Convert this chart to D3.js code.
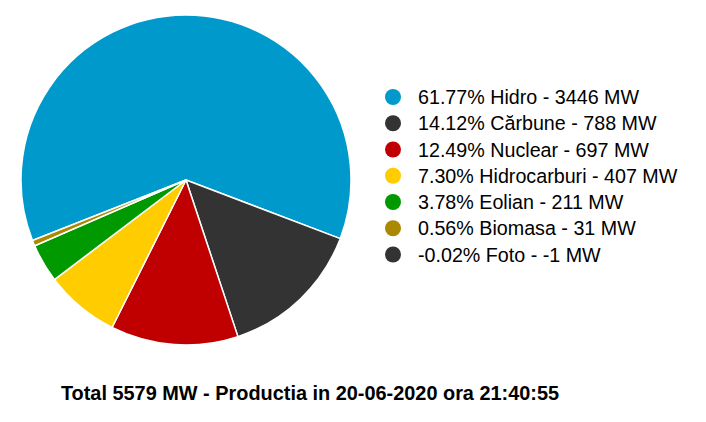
<!DOCTYPE html>
<html lang="ro">
<head>
<meta charset="UTF-8">
<title>Productia de energie</title>
<script src="https://d3js.org/d3.v7.min.js"></script>
<style>
  body { margin: 0; background: #fff; }
  svg text { font-family: Arial, "Liberation Sans", sans-serif; fill: #000; }
</style>
</head>
<body>
<svg width="706" height="422"></svg>
<script>
const sources = ["Hidro", "Cărbune", "Nuclear", "Hidrocarburi", "Eolian", "Biomasa", "Foto"];
const megawatts = [3446, 788, 697, 407, 211, 31, -1];
const colors = ["#0099cc", "#333333", "#c00000", "#ffcc00", "#009900", "#aa8800", "#333333"];
const stamp = "20-06-2020 ora 21:40:55";

const total = d3.sum(megawatts);
const rows = sources.map((s, i) => ({ name: s, mw: megawatts[i], color: colors[i] }));

const svg = d3.select("svg");
const cx = 186, cy = 180, radius = 165;

// pie starts where Biomasa ends (~248 deg clockwise from top)
const start = 248.5 * Math.PI / 180;
const pie = d3.pie()
    .sort(null)
    .value(d => Math.max(0, d.mw))
    .startAngle(start)
    .endAngle(start + 2 * Math.PI);
const arc = d3.arc().innerRadius(0).outerRadius(radius);

svg.append("g")
    .attr("transform", "translate(" + cx + "," + cy + ")")
    .selectAll("path")
    .data(pie(rows).filter(d => d.value > 0))
    .enter()
    .append("path")
    .attr("d", arc)
    .attr("fill", d => d.data.color)
    .attr("stroke", "#fff")
    .attr("stroke-width", 1.5)
    .attr("stroke-linejoin", "round");

// legend
const ly = d3.scalePoint().domain(sources).range([97, 254.5]);
const legend = svg.append("g")
    .selectAll("g")
    .data(rows)
    .enter()
    .append("g")
    .attr("transform", d => "translate(0," + ly(d.name) + ")");

legend.append("circle")
    .attr("cx", 393)
    .attr("cy", 0)
    .attr("r", 8)
    .attr("fill", d => d.color);

legend.append("text")
    .attr("x", 418)
    .attr("y", 7)
    .style("font-size", "19.7px")
    .text(d => (d.mw / total * 100).toFixed(2) + "% " + d.name + " - " + d.mw + " MW");

svg.append("text")
    .attr("x", 310)
    .attr("y", 400)
    .attr("text-anchor", "middle")
    .style("font-size", "19.9px")
    .style("font-weight", "bold")
    .text("Total " + total + " MW - Productia in " + stamp);
</script>
</body>
</html>
